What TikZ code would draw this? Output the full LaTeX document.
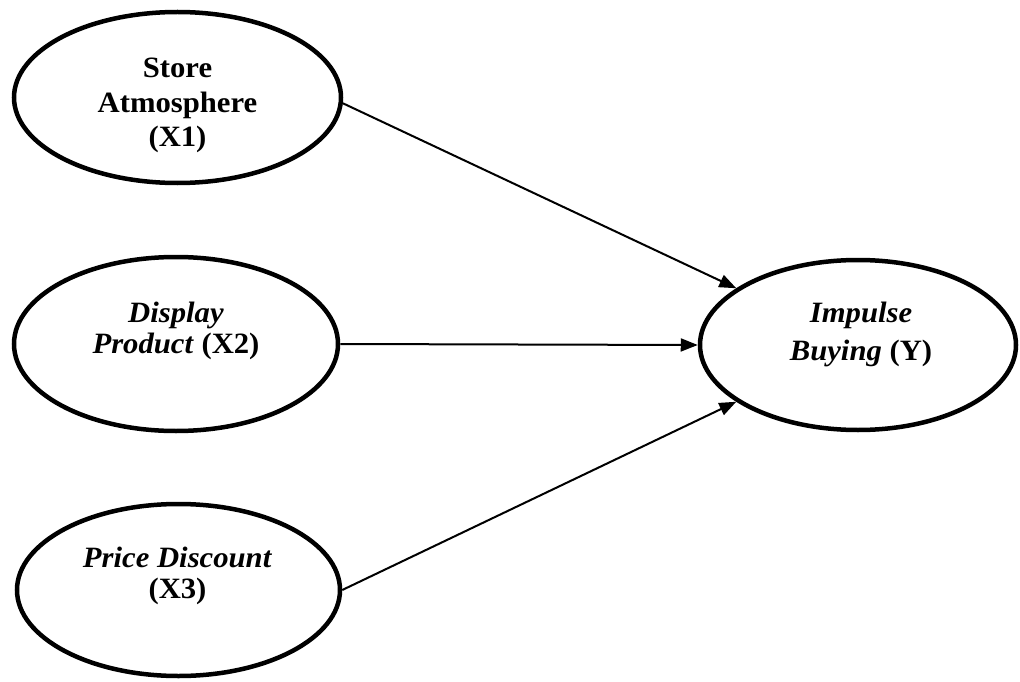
\documentclass[tikz,border=0pt]{standalone}
\usepackage{fontspec}
\setmainfont{Liberation Serif}[FakeStretch=1.04]
\usetikzlibrary{arrows.meta,shapes.geometric}
\begin{document}
\begin{tikzpicture}[x=1pt,y=-1pt,
  var/.style={draw=black,line width=4.5pt,ellipse,inner sep=0pt},
  lbl/.style={anchor=base,inner sep=0pt,font=\fontsize{29.5}{30}\selectfont\bfseries},
  link/.style={line width=2pt,-{Triangle[length=17pt,width=13pt]}}]
\useasboundingbox (0,0) rectangle (1020,682);
\node[var,minimum width=327pt,minimum height=171pt] (s1) at (177.5,97.5) {};
\node[var,minimum width=324pt,minimum height=174pt] (s2) at (176,344) {};
\node[var,minimum width=323pt,minimum height=172pt] (s3) at (178.5,590) {};
\node[var,minimum width=316pt,minimum height=170pt] (y) at (858,345) {};
\node[lbl] (t1) at (177.5,78) {\begin{tabular}[t]{@{}c@{}}Store\\[4.5pt] Atmosphere\\[4.5pt] (X1)\end{tabular}};
\node[lbl] (t2) at (176,322.5) {\begin{tabular}[t]{@{}c@{}}\textit{Display}\\[0.5pt] \textit{Product} (X2)\end{tabular}};
\node[lbl] (t3) at (177.5,567) {\begin{tabular}[t]{@{}c@{}}\textit{Price Discount}\\[1pt] (X3)\end{tabular}};
\node[lbl] (ty) at (861,322) {\begin{tabular}[t]{@{}c@{}}\textit{Impulse}\\[8pt] \textit{Buying} (Y)\end{tabular}};
\draw[link] (s1.-2) -- (y.155);
\draw[link] (s2.east) -- (y.west);
\draw[link] (s3.east) -- (y.205);
\end{tikzpicture}
\end{document}
